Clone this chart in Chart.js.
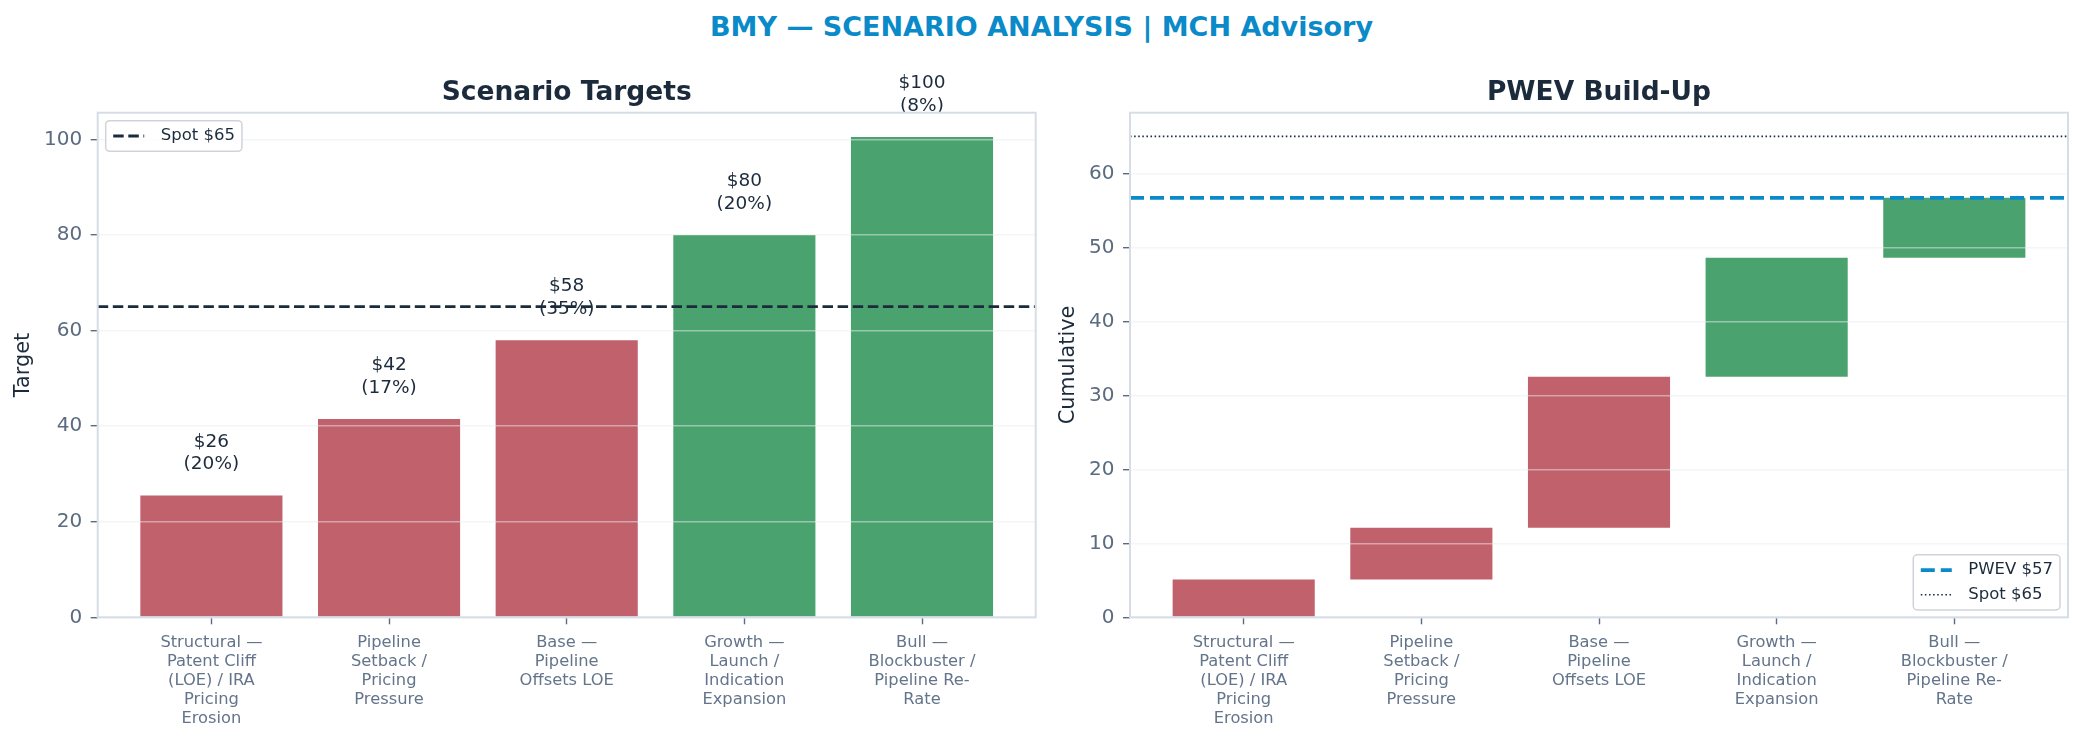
<!DOCTYPE html>
<html>
<head>
<meta charset="utf-8">
<title>BMY — Scenario Analysis</title>
<script src="https://cdn.jsdelivr.net/npm/chart.js@4.4.1/dist/chart.umd.min.js"></script>
<style>
  html, body { margin: 0; padding: 0; background: #fff; }
  body { width: 2083px; height: 742px; position: relative; overflow: hidden; font-family: 'DejaVu Sans', sans-serif; }
  #title { position: absolute; left: 0; top: 11px; width: 2083px; text-align: center; font-weight: bold; font-size: 27px; line-height: 31px; color: #0a8ac8; }
  #wrapLeft { position: absolute; left: 0; top: 0; width: 1041px; height: 742px; }
  #wrapRight { position: absolute; left: 1045px; top: 0; width: 1038px; height: 742px; }
</style>
</head>
<body>
<div id="title">BMY — SCENARIO ANALYSIS | MCH Advisory</div>
<div id="wrapLeft"><canvas id="targets" width="1041" height="742"></canvas></div>
<div id="wrapRight"><canvas id="pwev" width="1038" height="742"></canvas></div>
<script>
// scenario names, one line per array entry (as wrapped in the picture)
const scenarios = [
  ['Structural —', 'Patent Cliff', '(LOE) / IRA', 'Pricing', 'Erosion'],
  ['Pipeline', 'Setback /', 'Pricing', 'Pressure'],
  ['Base —', 'Pipeline', 'Offsets LOE'],
  ['Growth —', 'Launch /', 'Indication', 'Expansion'],
  ['Bull —', 'Blockbuster /', 'Pipeline Re-', 'Rate']
]
const targets = [25.5, 41.5, 58, 80, 100.5]
const targetText = ['$26', '$42', '$58', '$80', '$100']
const probText = ['(20%)', '(17%)', '(35%)', '(20%)', '(8%)']
const barColors = ['#c0616b', '#c0616b', '#c0616b', '#4aa36f', '#4aa36f']

// waterfall: where each weighted contribution starts and ends
const stepFrom = [0, 5.1, 12.1, 32.5, 48.6]
const stepTo = [5.1, 12.1, 32.5, 48.6, 56.7]

const spot = 65
const pwev = 56.7
const targetTicks = [0, 20, 40, 60, 80, 100]
const cumulativeTicks = [0, 10, 20, 30, 40, 50, 60]

const FONT = 'DejaVu Sans'
const INK = '#1c2b3c'
const TICK = '#5b6b80'

const frame = {
  id: 'frame',
  afterDraw(chart) {
    const { ctx, chartArea: a } = chart
    ctx.save()
    ctx.strokeStyle = '#d6dde7'
    ctx.lineWidth = 2
    ctx.strokeRect(a.left, a.top, a.right - a.left, a.bottom - a.top)
    ctx.restore()
  }
}

const panelTitle = {
  id: 'panelTitle',
  afterDraw(chart, args, opts) {
    const { ctx, chartArea: a } = chart
    ctx.save()
    ctx.font = `bold 26.5px ${FONT}`
    ctx.fillStyle = INK
    ctx.textAlign = 'center'
    ctx.textBaseline = 'alphabetic'
    ctx.fillText(opts.text, (a.left + a.right) / 2, a.top - 12.7)
    ctx.restore()
  }
}

const boxLegend = {
  id: 'boxLegend',
  afterDraw(chart, args, opts) {
    const { ctx, chartArea: a } = chart
    const items = chart.data.datasets.filter(d => d.type === 'line')
    ctx.save()
    ctx.font = `16.5px ${FONT}`
    const textW = Math.max(...items.map(d => ctx.measureText(d.label).width))
    const rowH = 24.6
    const w = 55 + textW + 7
    const h = items.length * rowH + 6
    const x = opts.corner === 'tl' ? a.left + 8 : a.right - 8 - w
    const y = opts.corner === 'tl' ? a.top + 8 : a.bottom - 7.3 - h
    ctx.fillStyle = 'rgba(255,255,255,0.85)'
    ctx.strokeStyle = '#cfd3d9'
    ctx.lineWidth = 1.5
    ctx.beginPath()
    ctx.roundRect(x, y, w, h, 4)
    ctx.fill()
    ctx.stroke()
    items.forEach((d, i) => {
      const cy = y + 3 + rowH * (i + 0.5)
      ctx.strokeStyle = d.borderColor
      ctx.lineWidth = d.borderWidth
      ctx.setLineDash(d.borderDash || [])
      ctx.beginPath()
      ctx.moveTo(x + 7.5, cy)
      ctx.lineTo(x + 38.5, cy)
      ctx.stroke()
      ctx.setLineDash([])
      ctx.fillStyle = INK
      ctx.textAlign = 'left'
      ctx.textBaseline = 'middle'
      ctx.fillText(d.label, x + 55, cy)
    })
    ctx.restore()
  }
}

const barNotes = {
  id: 'barNotes',
  afterDatasetsDraw(chart) {
    const { ctx } = chart
    const meta = chart.getDatasetMeta(0)
    ctx.save()
    ctx.font = `18.5px ${FONT}`
    ctx.fillStyle = INK
    ctx.textAlign = 'center'
    ctx.textBaseline = 'middle'
    meta.data.forEach((bar, i) => {
      ctx.fillText(targetText[i], bar.x, bar.y - 53.5)
      ctx.fillText(probText[i], bar.x, bar.y - 31)
    })
    ctx.restore()
  }
}

function scenarioAxis() {
  return {
    type: 'linear',
    position: 'bottom',
    min: -0.64,
    max: 4.64,
    offset: false,
    afterBuildTicks: axis => { axis.ticks = scenarios.map((s, i) => ({ value: i })) },
    afterFit: axis => { axis.height = 124.7 },
    grid: { offset: false, drawOnChartArea: false, drawTicks: true, tickLength: 7, tickColor: TICK, tickWidth: 1.4 },
    border: { display: false },
    ticks: {
      autoSkip: false, maxRotation: 0, minRotation: 0, padding: 9,
      color: '#64748b',
      font: { family: FONT, size: 16.3, lineHeight: 1.16 },
      callback: v => scenarios[v]
    }
  }
}

function valueAxis(max, tickValues, title, width) {
  return {
    type: 'linear',
    min: 0,
    max: max,
    afterBuildTicks: axis => { axis.ticks = tickValues.map(v => ({ value: v })) },
    afterFit: axis => { axis.width = width },
    // grid sits above the bars, as in the picture
    grid: { z: 1, color: 'rgba(232,235,240,0.5)', lineWidth: 1.4, tickLength: 7, tickColor: TICK, tickWidth: 1.4 },
    border: { display: false },
    ticks: { padding: 8.5, color: TICK, font: { family: FONT, size: 20 } },
    title: { display: true, text: title, color: INK, font: { family: FONT, size: 20.8 }, padding: { top: 11.5, bottom: 0 } }
  }
}

const lineAxis = { type: 'linear', display: false, offset: false, min: 0, max: 1 }

new Chart(document.getElementById('targets'), {
  type: 'bar',
  data: {
    datasets: [{
      type: 'bar',
      label: 'Target',
      data: targets.map((v, i) => ({ x: i, y: v })),
      backgroundColor: barColors,
      categoryPercentage: 0.8,
      barPercentage: 1,
      grouped: false,
      order: 2
    }, {
      type: 'line',
      label: 'Spot $' + spot,
      data: [{ x: 0, y: spot }, { x: 1, y: spot }],
      xAxisID: 'xLine',
      borderColor: INK,
      borderWidth: 2.8,
      borderDash: [10.5, 4.6],
      pointRadius: 0,
      fill: false,
      order: 1
    }]
  },
  options: {
    responsive: false,
    animation: false,
    layout: { padding: { top: 112.7, bottom: 0, left: 0, right: 5.3 } },
    scales: {
      x: scenarioAxis(),
      xLine: lineAxis,
      y: valueAxis(105.6, targetTicks, 'Target', 97.7)
    },
    plugins: {
      legend: { display: false },
      tooltip: { enabled: false },
      panelTitle: { text: 'Scenario Targets' },
      boxLegend: { corner: 'tl' }
    }
  },
  plugins: [frame, panelTitle, boxLegend, barNotes]
})

new Chart(document.getElementById('pwev'), {
  type: 'bar',
  data: {
    datasets: [{
      type: 'bar',
      label: 'Contribution',
      data: stepFrom.map((lo, i) => ({ x: i, y: [lo, stepTo[i]] })),
      backgroundColor: barColors,
      categoryPercentage: 0.8,
      barPercentage: 1,
      grouped: false,
      order: 3
    }, {
      type: 'line',
      label: 'PWEV $57',
      data: [{ x: 0, y: pwev }, { x: 1, y: pwev }],
      xAxisID: 'xLine',
      borderColor: '#0a8ac8',
      borderWidth: 3.8,
      borderDash: [14, 6],
      pointRadius: 0,
      fill: false,
      order: 1
    }, {
      type: 'line',
      label: 'Spot $' + spot,
      data: [{ x: 0, y: spot }, { x: 1, y: spot }],
      xAxisID: 'xLine',
      borderColor: INK,
      borderWidth: 1.55,
      borderDash: [1.55, 2.55],
      pointRadius: 0,
      fill: false,
      order: 2
    }]
  },
  options: {
    responsive: false,
    animation: false,
    layout: { padding: { top: 112.7, bottom: 0, left: 0, right: 15 } },
    scales: {
      x: scenarioAxis(),
      xLine: lineAxis,
      y: valueAxis(68.2, cumulativeTicks, 'Cumulative', 85)
    },
    plugins: {
      legend: { display: false },
      tooltip: { enabled: false },
      panelTitle: { text: 'PWEV Build-Up' },
      boxLegend: { corner: 'br' }
    }
  },
  plugins: [frame, panelTitle, boxLegend]
})
</script>
</body>
</html>
